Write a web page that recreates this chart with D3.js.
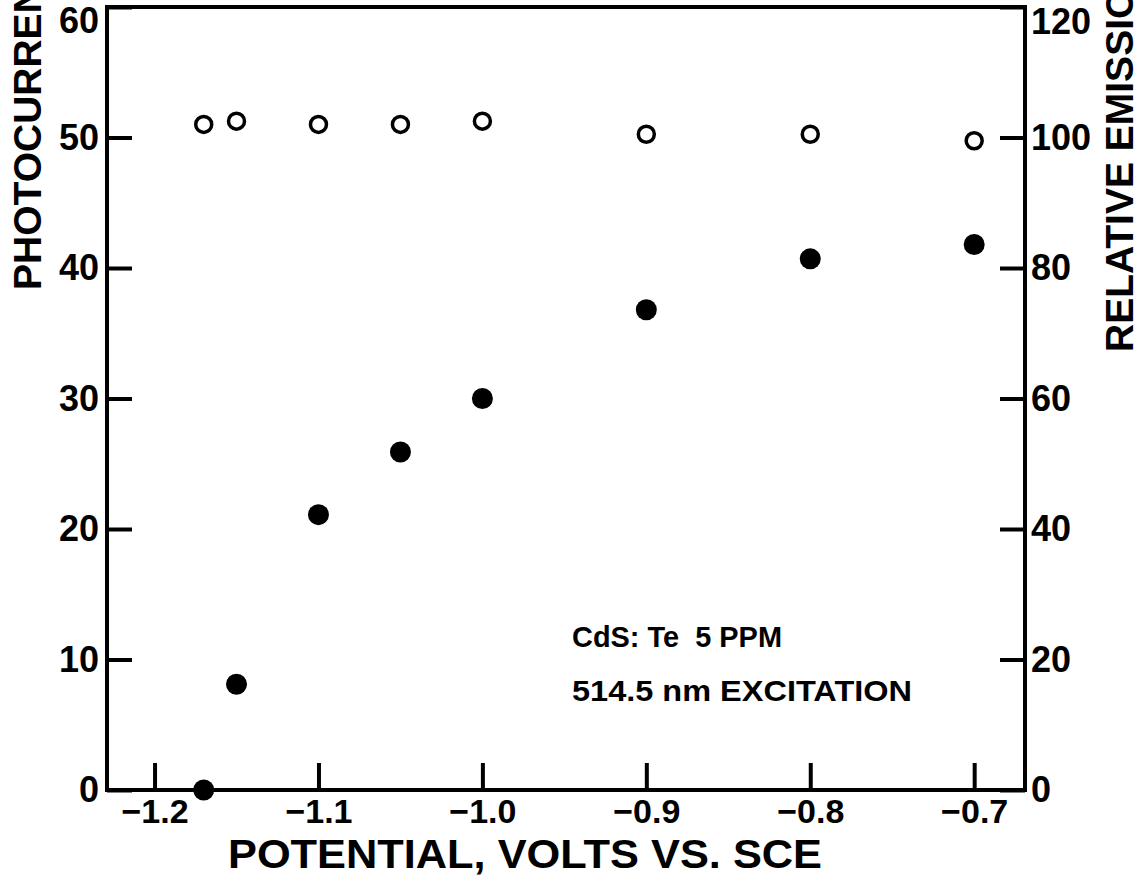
<!DOCTYPE html>
<html>
<head>
<meta charset="utf-8">
<script src="https://cdn.jsdelivr.net/npm/d3@7"></script>
<style>
body { margin: 0; background: #fff; }
svg { display: block; font-family: "Liberation Sans", Arial, sans-serif; font-weight: bold; }
</style>
</head>
<body>
<svg width="1148" height="888"></svg>
<script>
// values
const potential = [-1.17, -1.15, -1.10, -1.05, -1.00, -0.90, -0.80, -0.70];
const photocurrent = [0, 8.1, 21.1, 25.9, 30.0, 36.8, 40.7, 41.8];
const emission = [102, 102.5, 102, 102, 102.5, 100.5, 100.5, 99.5];

const xTicks = [-1.2, -1.1, -1.0, -0.9, -0.8, -0.7];
const xTickLabels = ["−1.2", "−1.1", "−1.0", "−0.9", "−0.8", "−0.7"];
const leftTicks = [0, 10, 20, 30, 40, 50, 60];
const rightTicks = [0, 20, 40, 60, 80, 100, 120];
const notes = ["CdS: Te  5 PPM", "514.5 nm EXCITATION"];

// layout
const noteWidths = [210, 340];

const svg = d3.select("svg");

const x = d3.scaleLinear().domain([-1.229, -0.669]).range([107, 1025]);
const yLeft = d3.scaleLinear().domain([0, 60]).range([790, 7]);
const yRight = d3.scaleLinear().domain([0, 120]).range([790, 7]);

// frame
svg.append("rect")
    .attr("x", x.range()[0])
    .attr("y", yLeft.range()[1])
    .attr("width", x.range()[1] - x.range()[0])
    .attr("height", yLeft.range()[0] - yLeft.range()[1])
    .attr("fill", "none")
    .attr("stroke", "#000")
    .attr("stroke-width", 4);

const bottomAxis = svg.append("g")
    .attr("transform", `translate(0,${yLeft.range()[0]})`)
    .call(d3.axisBottom(x)
        .tickValues(xTicks)
        .tickFormat((d, i) => xTickLabels[i])
        .tickSize(-27)
        .tickSizeOuter(0)
        .tickPadding(9));

const leftAxis = svg.append("g")
    .attr("transform", `translate(${x.range()[0]},0)`)
    .call(d3.axisLeft(yLeft)
        .tickValues(leftTicks)
        .tickSize(-25)
        .tickSizeOuter(0)
        .tickPadding(8));

const rightAxis = svg.append("g")
    .attr("transform", `translate(${x.range()[1]},0)`)
    .call(d3.axisRight(yRight)
        .tickValues(rightTicks)
        .tickSize(-25)
        .tickSizeOuter(0)
        .tickPadding(6));

[bottomAxis, leftAxis, rightAxis].forEach(g => {
    g.select(".domain").remove();
    g.selectAll(".tick line").attr("stroke", "#000").attr("stroke-width", 4);
    g.selectAll(".tick text")
        .attr("fill", "#000")
        .attr("font-family", "Liberation Sans, Arial, sans-serif")
        .attr("font-weight", "bold")
        .attr("font-size", 36);
});
bottomAxis.selectAll(".tick text").attr("font-size", 34);

// top labels sit just below the corner in the original
leftAxis.selectAll(".tick text").filter(d => d === 60).attr("y", 14);
rightAxis.selectAll(".tick text").filter(d => d === 120).attr("y", 15);

// axis titles
svg.append("text")
    .attr("text-anchor", "middle")
    .attr("x", 525)
    .attr("y", 868)
    .attr("font-size", 40)
    .attr("textLength", 594)
    .attr("lengthAdjust", "spacingAndGlyphs")
    .text("POTENTIAL, VOLTS VS. SCE");

svg.append("text")
    .attr("transform", "translate(41,290) rotate(-90)")
    .attr("font-size", 39)
    .text("PHOTOCURRENT");

svg.append("text")
    .attr("transform", "translate(1133,352) rotate(-90)")
    .attr("font-size", 39)
    .text("RELATIVE EMISSION");

// annotation
svg.selectAll(".note")
    .data(notes)
    .join("text")
    .attr("class", "note")
    .attr("x", 572)
    .attr("y", (d, i) => 647 + i * 54)
    .attr("font-size", 30)
    .attr("textLength", (d, i) => noteWidths[i])
    .attr("lengthAdjust", "spacingAndGlyphs")
    .style("white-space", "pre")
    .text(d => d);

// photocurrent (filled) and relative emission (open)
svg.selectAll(".pc")
    .data(potential)
    .join("circle")
    .attr("class", "pc")
    .attr("cx", d => x(d))
    .attr("cy", (d, i) => yLeft(photocurrent[i]))
    .attr("r", 10.5)
    .attr("fill", "#000");

svg.selectAll(".em")
    .data(potential)
    .join("circle")
    .attr("class", "em")
    .attr("cx", d => x(d))
    .attr("cy", (d, i) => yRight(emission[i]))
    .attr("r", 8)
    .attr("fill", "none")
    .attr("stroke", "#000")
    .attr("stroke-width", 3.5);
</script>
</body>
</html>
